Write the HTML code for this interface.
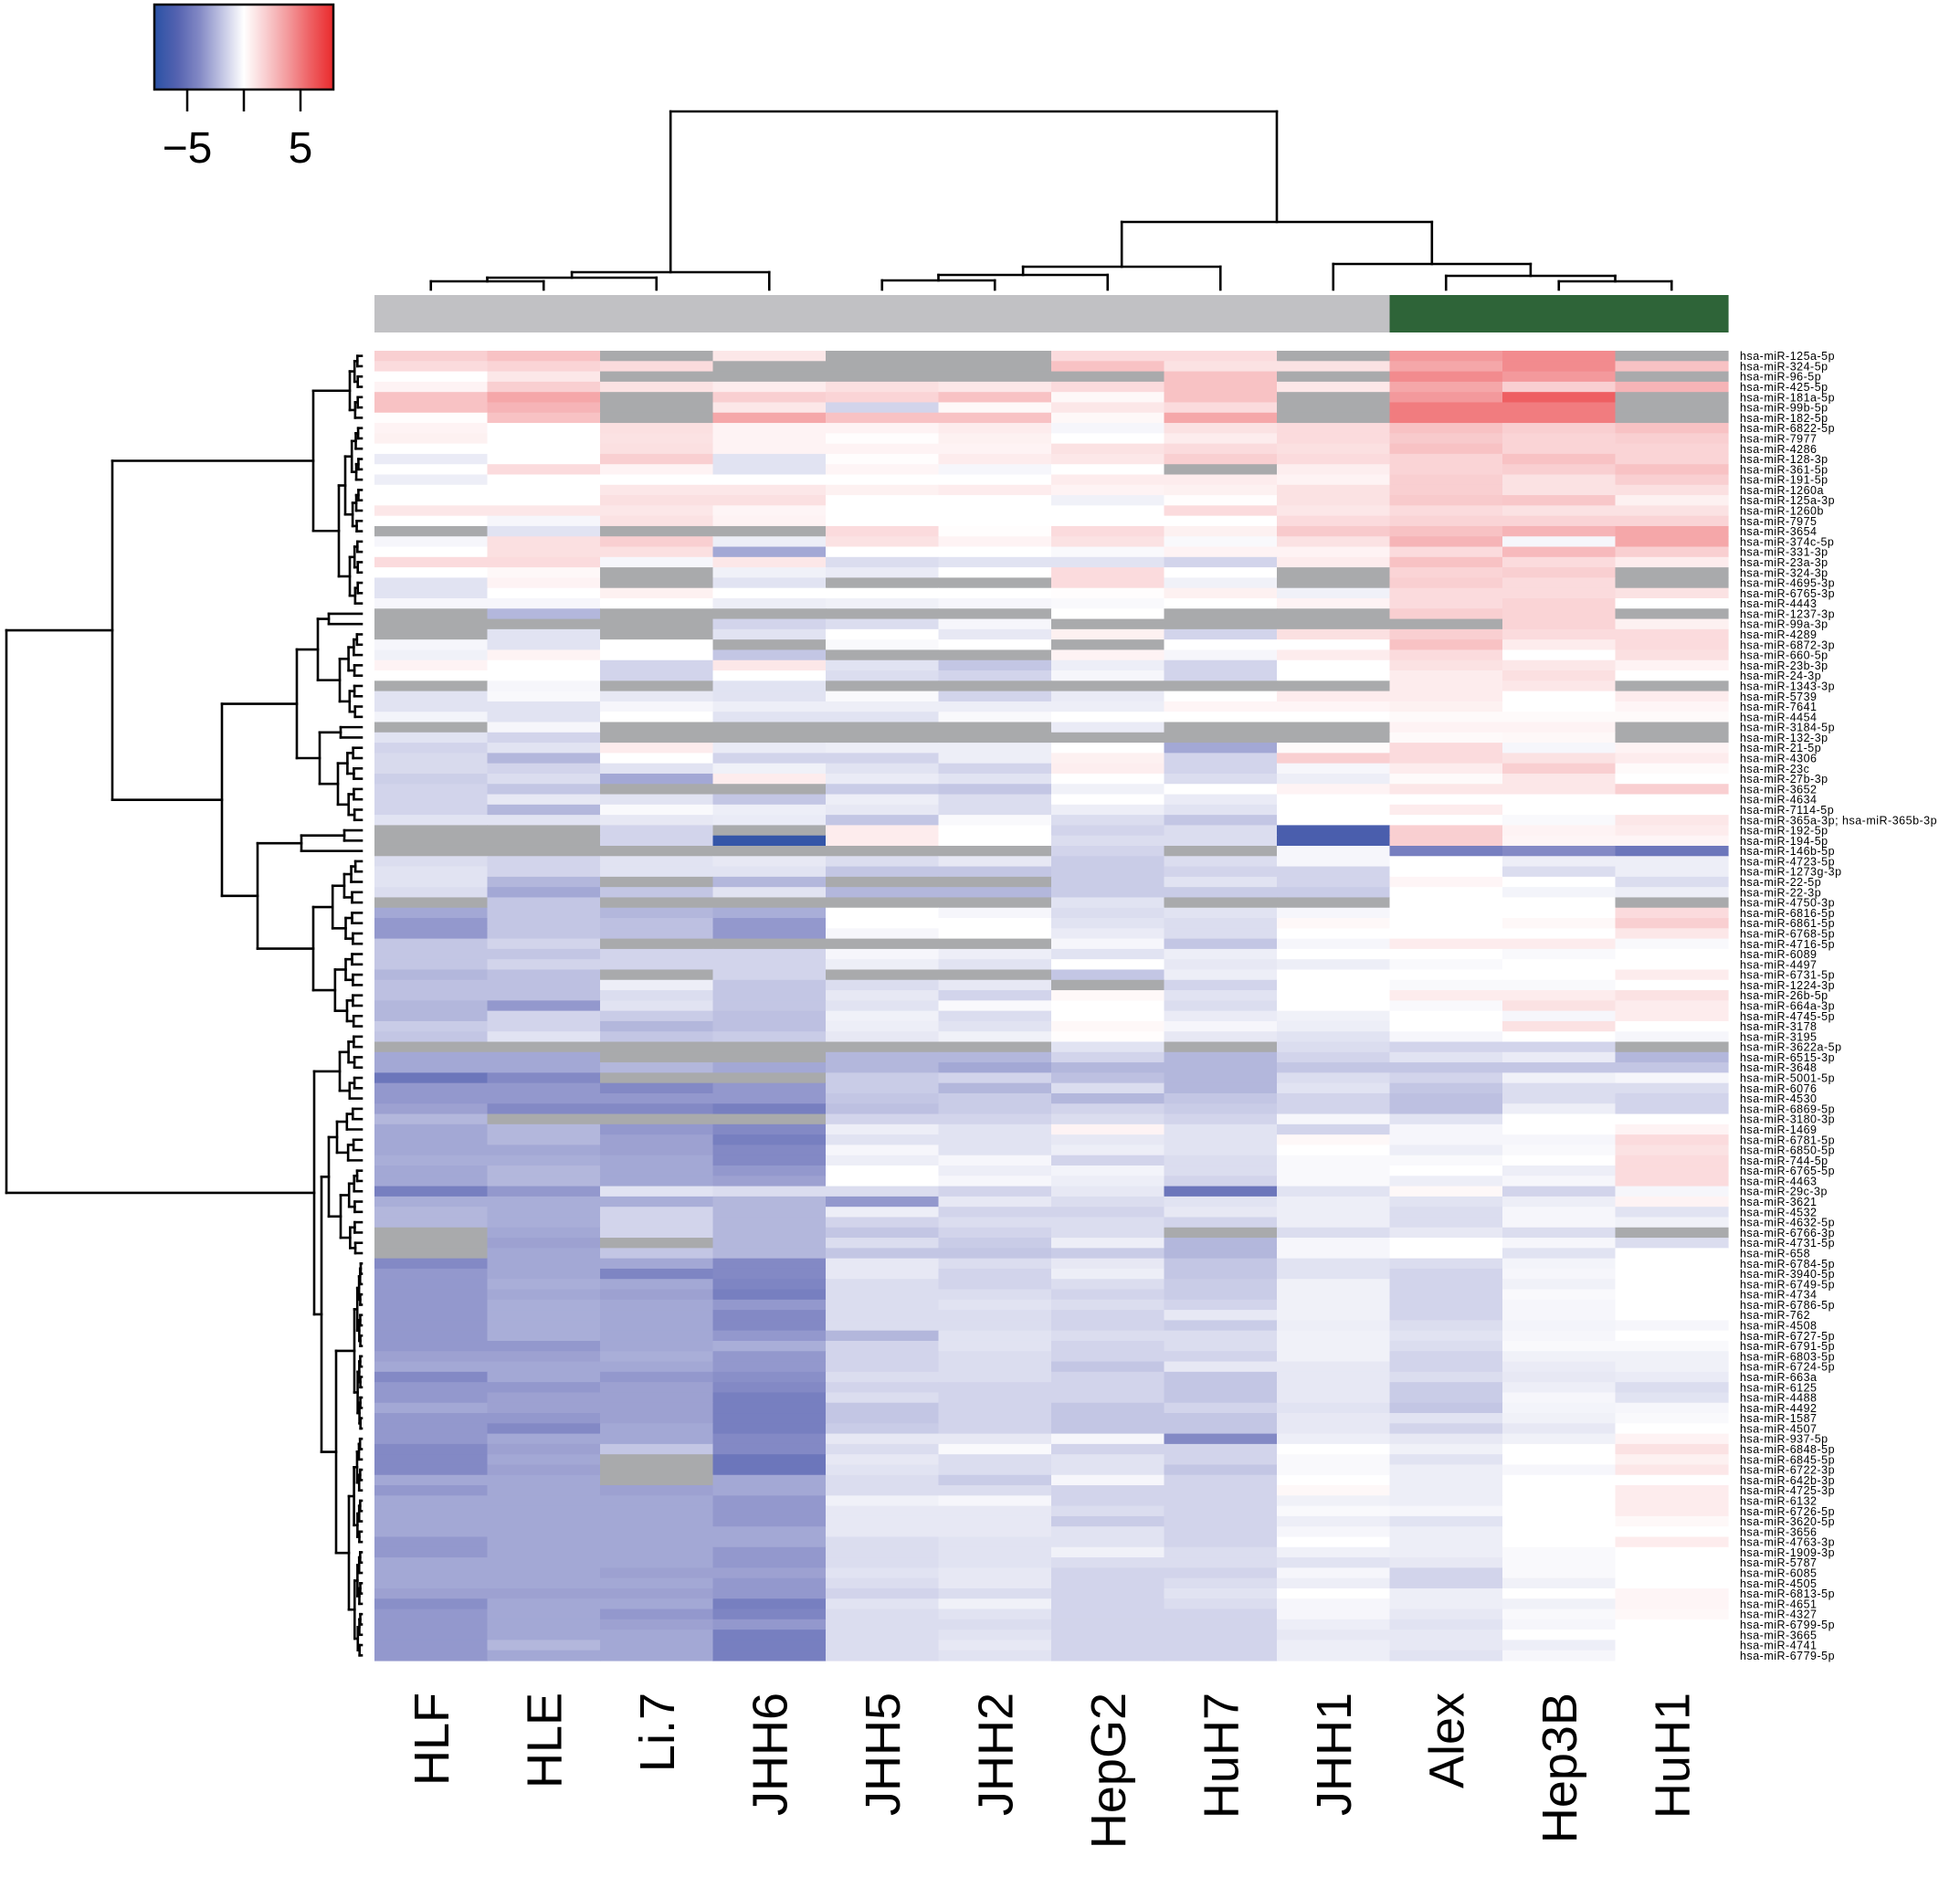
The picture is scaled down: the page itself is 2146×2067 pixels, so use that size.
<!DOCTYPE html>
<html><head><meta charset="utf-8"><style>
html,body{margin:0;padding:0;background:#fff;}
svg{display:block;}
text{font-family:"Liberation Sans",Arial,sans-serif;}
</style></head><body>
<svg id="chart" xmlns="http://www.w3.org/2000/svg" width="2146" height="2067" viewBox="0 0 2146 2067">
<defs>
<linearGradient id="keyGrad" x1="0" x2="1" y1="0" y2="0">
<stop offset="0" stop-color="#2a52a5"/><stop offset="0.127" stop-color="#5462b0"/><stop offset="0.253" stop-color="#8389c5"/><stop offset="0.38" stop-color="#c3c6e4"/><stop offset="0.5" stop-color="#ffffff"/><stop offset="0.62" stop-color="#f9cfd1"/><stop offset="0.747" stop-color="#f3999c"/><stop offset="0.873" stop-color="#ee5f62"/><stop offset="1" stop-color="#ea2a2c"/>
</linearGradient>
</defs>
<g>
<rect x="169" y="5" width="196" height="93" fill="url(#keyGrad)" stroke="#000" stroke-width="2.5"/>
<line x1="205" y1="98" x2="205" y2="122" stroke="#000" stroke-width="2.5"/>
<line x1="267" y1="98" x2="267" y2="122" stroke="#000" stroke-width="2.5"/>
<line x1="329" y1="98" x2="329" y2="122" stroke="#000" stroke-width="2.5"/>
<text x="205" y="178" font-size="48" text-anchor="middle">−5</text>
<text x="329" y="178" font-size="48" text-anchor="middle">5</text>
</g>
<g id="colDend"></g>
<g id="annot"></g>
<g id="cells"></g>
<g id="rowDend"></g>
<g id="rowLabels"></g>
<g id="colLabels"></g>
</svg>
<script>
const N = null;
const samples = ["HLF","HLE","Li.7","JHH6","JHH5","JHH2","HepG2","HuH7","JHH1","Alex","Hep3B","HuH1"];
const groups = [0,0,0,0,0,0,0,0,0,1,1,1];
const mirnas = ["125a-5p","324-5p","96-5p","425-5p","181a-5p","99b-5p","182-5p","6822-5p","7977","4286",
"128-3p","361-5p","191-5p","1260a","125a-3p","1260b","7975","3654","374c-5p","331-3p",
"23a-3p","324-3p","4695-3p","6765-3p","4443","1237-3p","99a-3p","4289","6872-3p","660-5p",
"23b-3p","24-3p","1343-3p","5739","7641","4454","3184-5p","132-3p","21-5p","4306",
"23c","27b-3p","3652","4634","7114-5p","365a-3p; hsa-miR-365b-3p","192-5p","194-5p","146b-5p","4723-5p",
"1273g-3p","22-5p","22-3p","4750-3p","6816-5p","6861-5p","6768-5p","4716-5p","6089","4497",
"6731-5p","1224-3p","26b-5p","664a-3p","4745-5p","3178","3195","3622a-5p","6515-3p","3648",
"5001-5p","6076","4530","6869-5p","3180-3p","1469","6781-5p","6850-5p","744-5p","6765-5p",
"4463","29c-3p","3621","4532","4632-5p","6766-3p","4731-5p","658","6784-5p","3940-5p",
"6749-5p","4734","6786-5p","762","4508","6727-5p","6791-5p","6803-5p","6724-5p","663a",
"6125","4488","4492","1587","4507","937-5p","6848-5p","6845-5p","6722-3p","642b-3p",
"4725-3p","6132","6726-5p","3620-5p","3656","4763-3p","1909-3p","5787","6085","4505",
"6813-5p","4651","4327","6799-5p","3665","4741","6779-5p"];
const values = [
[2,2.5,N,1,N,N,1.5,1.5,N,4,4.5,N],
[1.5,1.8,1.5,N,N,N,2.5,1.2,1.2,3.5,4.5,2.5],
[0,1,N,N,N,N,N,2.5,N,4.5,4,N],
[0.5,2,1.2,0.8,1.3,1,1.5,2.5,1,3.5,2,3],
[2.5,3.5,N,2,1.8,2.5,0.3,2.5,N,4,6,N],
[2.5,3,N,1,-1.5,0.3,1,1.5,N,5,5,N],
[0.1,2.5,N,3.5,2.5,2.5,0.3,3.5,N,5,5,N],
[0.5,0,1.3,0.5,0.5,0.8,-0.3,1.2,1.5,2.5,2,2.5],
[0.6,0,1.2,0.5,0.1,0.6,0,0.8,1.5,2.2,1.8,2],
[0,0,1.3,0.5,0.5,0.5,1.2,1.5,1.3,2.5,1.8,1.8],
[-0.7,0,2,-1,0.1,0.8,1,2,1.5,1.8,2.5,1.8],
[0,1.5,0.5,-1,0.4,-0.3,0,N,0.7,1.8,2,2.5],
[-0.6,0,0,0,0,0,0.8,0.8,0.5,2,1.2,2],
[0,0,1,1,0.6,0.8,0.5,0.6,1.2,2,1.2,1.3],
[0,0,1.3,1.3,0,0,-0.5,0.1,1.2,2.2,2.3,0.6],
[1,1,1,0.4,0,0,0,1.5,1,1.5,1.2,1.2],
[0,-0.3,1.2,0.5,0,0,0,0,1.5,1.8,1.8,1.8],
[N,-1,N,N,1.5,0.1,1.5,0.6,2.2,2.5,3,3.5],
[-0.3,1.3,2,-0.6,1.2,0.5,1.2,-0.2,1.2,3,-0.3,3.5],
[0,1.3,1.3,-3,0,0,-0.2,0.5,0.5,1.5,2.8,2],
[1.5,1.5,-0.3,1,-1.2,-1,-1,-1.5,0.8,2.5,1.5,0.8],
[0,0.3,N,-0.5,-0.7,0,1.5,0,N,1.8,2,N],
[-1,0.5,N,-1,N,N,1.5,-0.5,N,2,1.5,N],
[-1,0,0.6,0,0,0,0.1,0.6,-0.5,1.5,1.5,1.2],
[-0.3,-0.3,0,-0.6,-0.5,-0.3,-0.2,0,0.5,1.5,1.8,0],
[N,-2.5,N,N,N,N,0,N,N,2,1.8,N],
[N,N,N,-1.5,-1.2,-0.3,N,N,N,N,1.8,0.6],
[N,-1,N,-1,0,-0.8,0.6,-1.5,1.3,2,1.5,1.5],
[-0.3,-1,0,N,-0.2,0,N,0,0,2.5,0.8,1.5],
[-0.5,0.5,0,-2,N,N,0.5,-0.3,0.8,1.5,0,1.3],
[0.5,0,-1.5,1,-1,-2,-0.6,-1.5,0,1.2,1,0.5],
[0,0,-1.5,0,-1.2,-1.5,-0.3,-1.5,0,0.8,1.3,0],
[N,-0.3,N,-1,N,N,N,N,N,0.8,1,N],
[-1,-0.2,-0.8,-1,-0.2,-1.5,-0.7,0,0.8,0.8,0,0.8],
[-1,-1,-0.3,-0.6,-0.6,-0.6,-0.6,0.4,0.4,0.6,0,0.4],
[-0.4,-1,0,-1,-1,-0.2,0,0,0,0.2,0.2,0.2],
[N,-0.3,N,N,N,N,-0.7,N,N,0.5,0.5,N],
[-1,-1.5,N,N,N,N,N,N,N,0.2,0.3,N],
[-1.5,-1,0.8,-0.7,-0.6,-0.6,0,-3,0.2,1.5,-0.3,0.5],
[-1.3,-2.5,0,-1.5,-1.5,-0.6,0.6,-1.5,2,1.5,1.2,0.8],
[-1.3,-1.5,-1,-0.5,-1,-1.5,0.7,-1.5,-0.3,0.8,2,0.2],
[-1.7,-1.2,-3,0.8,-0.7,-1,0,-1.2,-0.6,0.2,1,0],
[-1.5,-2,N,N,-1.8,-2,-0.5,0,0.5,1,1,2],
[-1.5,-0.8,-1,-2,-0.6,-1.2,0,-0.7,0,0,0,0],
[-1.5,-2.5,-0.2,-0.6,-0.8,-1.2,-0.6,-1,0,0.8,0,0],
[-1,-1,-0.8,-0.7,-2,-0.2,-1.2,-2,0,0,-0.2,1],
[N,N,-1.5,N,0.8,0,-1.5,-1.2,-6.5,2,0.5,0.8],
[N,N,-1.5,-7.5,0.8,0,-1.2,-1.2,-6.5,2,0.4,0.4],
[N,N,N,N,N,N,-1.5,N,-0.3,-4.5,-4,-5],
[-1.2,-1.5,-1,-0.8,-1.2,-0.8,-1.8,-1.2,-0.3,0,-0.6,-0.6],
[-1,-1.5,-1,-1,-2,-2,-1.8,-1.5,-1.5,0,-1.2,-0.6],
[-1,-2.5,N,-2.5,N,N,-1.8,-1,-1.5,0.4,0,-1.2],
[-1.2,-3,-2,-1,-2.5,-2.5,-1.8,-1.8,-1.8,0,-0.4,-0.6],
[N,-2,N,N,N,N,-1,N,N,0,0,N],
[-3,-2,-2.5,-2.8,0,-0.3,-1.2,-1,-0.3,0,0,1.5],
[-3.5,-2,-2.2,-3.5,0,0,-1,-1.2,0.3,0,0.3,2],
[-3.5,-2,-2.2,-3.5,-0.3,0,-0.7,-1.2,0,0,0,1],
[-2,-1.5,N,N,N,N,-0.3,-2,-0.3,0.8,0.8,-0.2],
[-2,-2,-1.5,-1.5,-0.3,-0.6,-1,-0.6,0,0,-0.2,0],
[-2,-1.5,-1.5,-1.5,-0.6,-1,0,-0.8,-0.6,-0.2,0,0],
[-2.5,-2.2,N,-1.5,N,N,-2,-0.6,0,0,0,0.8],
[-2.2,-2.2,-0.6,-2,-1.2,-0.8,N,-1.5,0,-0.2,-0.2,0],
[-2.2,-2.2,-1.2,-2,-0.8,-1.5,0.3,-1,0,0.8,0.8,1.2],
[-2.5,-3.5,-1,-2,-1,-0.2,0,-1.2,0,-0.2,1.2,0.8],
[-2.5,-1.5,-1.8,-2.2,-0.5,-1.2,0,-0.7,-0.5,0,-0.3,0.8],
[-1.8,-1.5,-2.5,-2.2,-0.6,-1,0.3,-0.3,-0.6,0,1.2,0],
[-2,-1,-2,-1.8,-0.8,-0.5,0.1,-0.8,-1,-0.3,0,-0.3],
[N,N,N,N,N,N,-1,N,-1.2,-1.5,-1.5,N],
[-3,-3,N,N,-2.5,-2.5,-1.5,-2.5,-1.5,-1,-0.7,-2.5],
[-3,-3,-2.5,-3,-2.5,-3,-2.5,-2.5,-2,-2,-2,-2],
[-5,-4,N,N,-1.8,-1.5,-2.2,-2.5,-1.2,-1.5,-0.5,-0.3],
[-3.5,-3.5,-4,-3.5,-1.8,-2.5,-1.2,-2.5,-1,-2,-1.2,-1.2],
[-3.5,-3.5,-3.5,-3.5,-2,-1.8,-2.5,-2,-1.5,-2.2,-1.2,-1.5],
[-3.2,-4,-4,-4.5,-2.2,-1.8,-1.5,-1.8,-1.5,-2.2,-0.6,-1.5],
[-2.5,N,N,N,-1.5,-1.5,-1.2,-1.5,-0.3,-1,0,0],
[-3,-2.5,-3.5,-4,-0.6,-1,0.5,-1,-1.5,-0.3,0,0.5],
[-3,-2.5,-3.2,-4.5,-1,-1,-0.8,-1,0.3,-0.3,-0.3,1.5],
[-3,-3,-3.2,-4,-0.3,-1,-0.6,-1,0,-0.6,-0.2,1.2],
[-2.8,-2.8,-3,-4,-0.6,-0.3,-1.5,-1.2,-0.2,-0.2,0,1.5],
[-3,-2.5,-3,-3.5,0,-0.6,-0.4,-1.2,-0.2,0,-0.6,1.5],
[-3,-2.5,-3,-3.2,0,-0.3,-0.6,-1.5,-0.2,-0.6,-0.3,1.5],
[-4.5,-3.5,-1,-1.2,-1.2,-1.5,-0.8,-5,-1,0.3,-1.5,-0.3],
[-2.8,-2.8,-2.8,-2.5,-3.5,-0.8,-1.2,-1,-0.6,-1,-0.6,0.5],
[-2.5,-2.8,-1.5,-2.5,-0.6,-1.5,-1.5,-0.8,-0.6,-1.2,-0.3,-1],
[-2.5,-2.8,-1.5,-2.5,-1.5,-1.2,-1.2,-1.5,-0.6,-1.2,-0.3,-0.5],
[N,-3,-1.5,-2.5,-2,-1.5,-1.2,N,-1.2,-0.8,-1.2,N],
[N,-3.2,N,-2.5,-1.2,-1.8,-0.6,-2.5,-0.3,0,-0.3,-1.2],
[N,-3,-2,-2.5,-2,-2,-1.8,-2.5,-0.3,0,-1,0],
[-4,-3,-3,-4,-0.8,-1.2,-0.8,-2,-1,-1.2,-0.4,0],
[-3.5,-3,-4.2,-4,-0.8,-1.5,-0.6,-2,-1,-1.5,-0.3,0],
[-3.5,-2.8,-3,-4.2,-1.2,-1.5,-1.2,-1.8,-0.5,-1.5,-0.5,0],
[-3.5,-3,-3.2,-4.5,-1.2,-1.2,-1.5,-1.8,-0.5,-1.5,-0.2,0],
[-3.5,-2.8,-3,-3.5,-1.2,-1,-1.2,-1.5,-0.5,-1.5,-0.3,0],
[-3.5,-2.8,-3,-4,-1.2,-1.2,-1.5,-0.8,-0.5,-1.5,-0.3,0],
[-3.5,-2.8,-3,-4,-1.2,-1.2,-1.5,-1.8,-0.6,-1.2,-0.4,-0.3],
[-3.5,-2.8,-3,-3.5,-2.5,-1,-1.2,-1.2,-0.5,-1,-0.3,0],
[-3.5,-3.5,-3,-2.8,-1.5,-1,-1.5,-1.2,-0.5,-1.2,-0.2,-0.2],
[-3.2,-3.2,-2.8,-3.5,-1.5,-1.2,-1.5,-1.5,-0.5,-1.5,-0.5,-0.5],
[-3,-3,-3,-3.5,-1.5,-1.2,-2,-0.8,-0.8,-1.5,-0.7,-0.5],
[-4,-3,-3.5,-3.8,-1.2,-1.2,-1.5,-2,-0.8,-1.2,-0.8,-0.7],
[-3.5,-3.5,-3.2,-4,-1.5,-1.5,-1.5,-2,-0.8,-1.8,-0.6,-1.2],
[-3.5,-3.2,-3.2,-4.5,-1.2,-1.5,-1.5,-2,-0.8,-1.8,-0.3,-1],
[-3,-3.2,-3.2,-4.5,-2,-1.5,-2,-1.5,-1,-2,-0.4,-0.3],
[-3.5,-3.5,-3.2,-4.5,-2,-1.5,-2,-2,-0.8,-1,-0.5,-0.2],
[-3.5,-4,-3,-4.5,-1.8,-1.5,-2,-2,-0.8,-1.5,-0.8,0],
[-3.5,-3,-3,-4,-0.8,-0.8,-0.3,-4,-0.6,-0.8,-0.5,0.5],
[-4,-3.2,-2,-4,-1.2,-0.2,-1.5,-1.5,0,-0.5,0,1.2],
[-4,-3,N,-5,-0.8,-1.2,-1,-1.5,-0.2,-1,0,0.6],
[-4,-3.2,N,-5,-1,-1.2,-1,-2,-0.2,-0.6,-0.3,1],
[-3,-3,N,-3,-1.2,-1.8,-0.3,-1.5,0,-0.6,0,0],
[-3.5,-3,-3.2,-3,-1.2,-1.2,-1.5,-1.5,0.3,-0.6,0,0.8],
[-3,-3,-3,-3.5,-0.5,-0.3,-1.5,-1.5,-0.5,-0.6,0,0.8],
[-3,-3,-3,-3.5,-0.8,-0.8,-1.2,-1.5,-0.2,-0.3,0,0.8],
[-3,-3,-3,-3.5,-0.8,-0.8,-1.8,-1.5,-0.6,-1,0,0.3],
[-3,-3,-3,-3,-0.8,-0.8,-1,-1.5,-0.3,-0.6,0,0],
[-3.5,-3,-3,-3,-1.2,-1,-1,-1.5,0,-0.6,0,0.8],
[-3.5,-3,-3,-3.5,-1.2,-1,-0.5,-1.2,-0.5,-0.6,-0.2,0],
[-3,-3,-3,-3.5,-1.2,-1,-1.2,-1.2,-1,-0.8,-0.2,0],
[-3,-3,-3.2,-3.2,-1,-0.8,-1.5,-1.5,-0.3,-1.5,-0.2,0],
[-3,-3,-3,-3.5,-1.2,-0.8,-1.5,-1.2,-0.6,-1.5,-0.5,0],
[-3.2,-3.2,-3.2,-3.5,-1.5,-1.2,-1.5,-1,0,-0.6,0,0.4],
[-3.8,-3,-3,-4.5,-1,-0.5,-1.5,-1.2,-0.3,-0.6,-0.5,0.4],
[-3.5,-3,-3.5,-4.2,-1.2,-1,-1.5,-1.5,-0.3,-0.8,-0.2,0.3],
[-3.5,-3,-3.2,-3.5,-1.2,-1.2,-1.5,-1.5,-0.6,-1,-0.3,0],
[-3.5,-3,-3,-4.5,-1.2,-1,-1.5,-1.5,-0.8,-0.8,0,0],
[-3.5,-2.5,-3,-4.5,-1.2,-0.8,-1.5,-1.5,-0.6,-0.8,-0.6,0],
[-3.5,-3,-3,-4.5,-1.2,-1,-1.5,-1.5,-0.6,-1,-0.3,0]
];
// dendrogram merge heights (px from leaves)
const colTree = [195, [19, [13, [9, 0, 1], 2], 3], [74, [25, [16, [10, 4, 5], 6], 7], [28, 8, [15, 9, [9, 10, 11]]]]];
const rowTree = [389,
 [273,
  [53, {s:0,e:6,h:13}, [25, {s:7,e:17,h:18}, {s:18,e:24,h:13}]],
  [153,
   [71, [48, {s:25,e:26,h:36}, {s:27,e:35,h:24}], [46, {s:36,e:37,h:23}, {s:38,e:45,h:26}]],
   [114, [66, {s:46,e:47,h:19}, 48], {s:49,e:65,h:53}]]],
 [52, {s:66,e:72,h:24}, [44, [36, {s:73,e:78,h:27}, {s:79,e:87,h:23}], [28, {s:88,e:104,h:8}, {s:105,e:126,h:14}]]]
];

const NS = "http://www.w3.org/2000/svg";
const X0 = 410, X1 = 1892, Y0 = 384, Y1 = 1818;
const colW = (X1 - X0) / samples.length;
const rowH = (Y1 - Y0) / mirnas.length;
const xScale = i => X0 + i * colW;
const yScale = r => Y0 + r * rowH;
const stopsV = [-8,-6,-4,-2,0,2,4,6,8];
const stopsC = [[42,82,165],[84,98,176],[131,137,197],[195,198,228],[255,255,255],[249,207,209],[243,153,156],[238,95,98],[234,42,44]];
function color(v){
  if (v === null) return "#a9aaac";
  v = Math.max(-8, Math.min(8, v));
  let i = 0; while (i < stopsV.length - 2 && v > stopsV[i+1]) i++;
  const t = (v - stopsV[i]) / (stopsV[i+1] - stopsV[i]);
  const c = stopsC[i].map((a, k) => Math.round(a + (stopsC[i+1][k] - a) * t));
  return "rgb(" + c.join(",") + ")";
}
function mk(tag, attrs, parent){
  const e = document.createElementNS(NS, tag);
  for (const k in attrs) e.setAttribute(k, attrs[k]);
  parent.appendChild(e); return e;
}
// cells
const cellsG = document.getElementById("cells");
values.forEach((row, r) => {
  row.forEach((v, c) => {
    const el = mk("rect", {x: xScale(c), y: yScale(r), width: colW + 0.6, height: rowH + 0.6, fill: color(v)}, cellsG);
    
    
  });
});
// annotation bar
const annG = document.getElementById("annot");
groups.forEach((g, c) => {
  const el = mk("rect", {x: xScale(c), y: 323, width: colW + 0.6, height: 41, fill: g ? "#2e6438" : "#c1c1c4"}, annG);
  
  
});
// row labels
const rlG = document.getElementById("rowLabels");
mirnas.forEach((m, r) => {
  const el = mk("text", {x: 1905, y: yScale(r + 0.5) + 4.5, "font-size": 12.5, "letter-spacing": 0.5, fill: "#000"}, rlG);
  el.textContent = "hsa-miR-" + m;
  
  
});
// column labels
const clG = document.getElementById("colLabels");
samples.forEach((s, c) => {
  const cx = xScale(c + 0.5) + 19;
  const el = mk("text", {transform: "translate(" + cx + ",1853) rotate(-90)", "font-size": 54, "text-anchor": "end", fill: "#000"}, clG);
  el.textContent = s;
  
  
});
// dendrogram helpers
function line(g, x1, y1, x2, y2){
  const el = mk("line", {x1, y1, x2, y2, stroke: "#000", "stroke-width": 2.6, "stroke-linecap": "square"}, g);
  
  
}
function expand(node){
  if (typeof node === "number") return node;
  if (!Array.isArray(node)) return expandRange(node.s, node.e, node.h);
  return [node[0], expand(node[1]), expand(node[2])];
}
function expandRange(s, e, h){
  if (s === e) return s;
  const mid = Math.floor((s + e) / 2);
  return [h, expandRange(s, mid, h * 0.6), expandRange(mid + 1, e, h * 0.55)];
}
// column dendrogram: leaves at y=317
const cdG = document.getElementById("colDend");
function drawCol(node){
  if (typeof node === "number") return {x: xScale(node + 0.5), y: 317};
  const a = drawCol(node[1]), b = drawCol(node[2]);
  const y = 317 - node[0];
  line(cdG, a.x, a.y, a.x, y); line(cdG, b.x, b.y, b.x, y); line(cdG, a.x, y, b.x, y);
  return {x: (a.x + b.x) / 2, y};
}
drawCol(colTree);
// row dendrogram: leaves at x=396
const rdG = document.getElementById("rowDend");
function drawRow(node){
  if (typeof node === "number") return {x: 396, y: yScale(node + 0.5)};
  const a = drawRow(node[1]), b = drawRow(node[2]);
  const x = 396 - node[0];
  line(rdG, a.x, a.y, x, a.y); line(rdG, b.x, b.y, x, b.y); line(rdG, x, a.y, x, b.y);
  return {x, y: (a.y + b.y) / 2};
}
drawRow(expand(rowTree));
</script>
</body></html>
